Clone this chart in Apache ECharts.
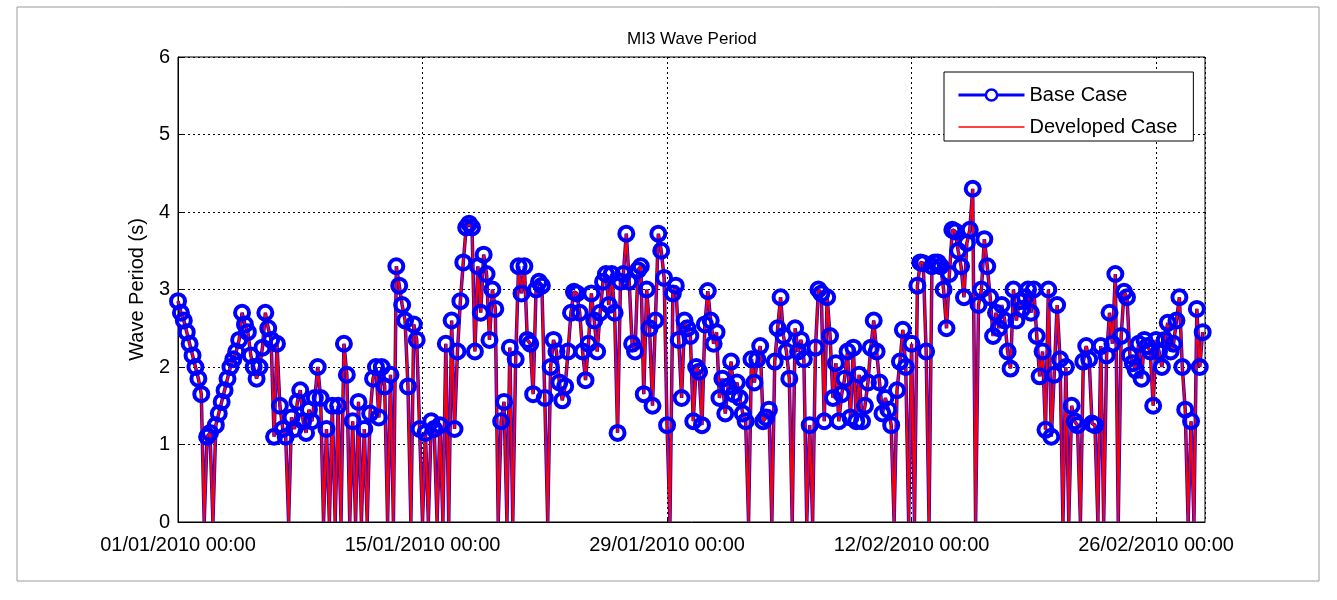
<!DOCTYPE html>
<html>
<head>
<meta charset="utf-8">
<script src="https://cdn.jsdelivr.net/npm/echarts@6/dist/echarts.min.js"></script>
<style>
html, body { margin: 0; background: #fff; }
#chart { width: 1337px; height: 600px; }
</style>
</head>
<body>
<div id="chart"></div>
<script>
// samples every 4 hours from 01/01/2010 00:00, x measured in days
var stepDays = 4 / 24;
var tickLabels = ['01/01/2010 00:00', '15/01/2010 00:00', '29/01/2010 00:00', '12/02/2010 00:00', '26/02/2010 00:00'];
var yTicks = [0, 1, 2, 3, 4, 5, 6];

var baseCase = [
    2.85, 2.7, 2.6, 2.45, 2.3, 2.15,
    2.0, 1.85, 1.65, 0, 1.1, 1.15,
    0, 1.25, 1.4, 1.55, 1.7, 1.85,
    2.0, 2.1, 2.2, 2.35, 2.7, 2.55,
    2.45, 2.15, 2.0, 1.85, 2.0, 2.25,
    2.7, 2.5, 2.35, 1.1, 2.3, 1.5,
    1.2, 1.1, 0, 1.35, 1.2, 1.55,
    1.7, 1.3, 1.15, 1.45, 1.3, 1.6,
    2.0, 1.6, 0, 1.2, 0, 1.5,
    0, 1.5, 0, 2.3, 1.9, 0,
    1.3, 0, 1.55, 0, 1.2, 0,
    1.4, 1.85, 2.0, 1.35, 2.0, 1.75,
    0, 1.9, 0, 3.3, 3.05, 2.8,
    2.6, 1.75, 0, 2.55, 2.35, 1.2,
    0, 1.15, 0, 1.3, 1.2, 0,
    1.25, 0, 2.3, 0, 2.6, 1.2,
    2.2, 2.85, 3.35, 3.8, 3.85, 3.8,
    2.2, 3.3, 2.7, 3.45, 3.2, 2.35,
    3.0, 2.75, 0, 1.3, 1.55, 0,
    2.25, 0, 2.1, 3.3, 2.95, 3.3,
    2.35, 2.3, 1.65, 3.0, 3.1, 3.05,
    1.6, 0, 2.0, 2.35, 2.2, 1.8,
    1.57, 1.75, 2.2, 2.7, 2.97, 2.95,
    2.7, 2.2, 1.83, 2.3, 2.95, 2.6,
    2.2, 2.7, 3.1, 3.2, 2.8, 3.2,
    2.7, 1.15, 3.1, 3.2, 3.72, 3.1,
    2.3, 2.2, 3.25, 3.3, 1.65, 3.0,
    2.5, 1.5, 2.6, 3.72, 3.5, 3.15,
    1.25, 0, 2.95, 3.05, 2.35, 1.6,
    2.6, 2.5, 2.4, 1.3, 2.0, 1.94,
    1.25, 2.55, 2.98, 2.6, 2.3, 2.45,
    1.6, 1.85, 1.4, 1.75, 2.07, 1.65,
    1.8, 1.6, 1.4, 1.3, 0, 2.1,
    1.8, 2.1, 2.27, 1.3, 1.35, 1.45,
    0, 2.07, 2.5, 2.9, 2.4, 2.2,
    1.85, 0, 2.5, 2.2, 2.35, 2.1,
    0, 1.25, 0, 2.25, 3.0, 2.95,
    1.3, 2.9, 2.4, 1.6, 2.05, 1.3,
    1.65, 1.85, 2.2, 1.35, 2.25, 1.3,
    1.9, 1.3, 1.5, 1.8, 2.25, 2.6,
    2.2, 1.8, 1.4, 1.6, 1.45, 1.25,
    0, 1.7, 2.07, 2.48, 2.0, 0,
    2.3, 0, 3.05, 3.35, 3.34, 2.2,
    0, 3.3, 3.35, 3.35, 3.3, 3.0,
    2.5, 3.2, 3.77, 3.75, 3.5, 3.3,
    2.9, 3.6, 3.77, 4.3, 0, 2.8,
    3.0, 3.65, 3.3, 2.9, 2.4, 2.7,
    2.5, 2.8, 2.6, 2.2, 1.98, 3.0,
    2.6, 2.85, 2.75, 2.9, 3.0, 2.7,
    3.0, 2.4, 1.88, 2.2, 1.19, 3.0,
    1.1, 1.9, 2.8, 2.1, 0, 2.0,
    0, 1.5, 1.3, 1.25, 0, 2.07,
    2.27, 2.1, 1.27, 1.25, 0, 2.27,
    0, 2.15, 2.7, 2.3, 3.2, 0,
    2.4, 2.97, 2.9, 2.15, 2.05, 1.96,
    2.3, 1.85, 2.35, 2.27, 2.2, 1.5,
    2.35, 2.2, 2.0, 2.35, 2.57, 2.2,
    2.3, 2.6, 2.9, 2.0, 1.45, 0,
    1.3, 0, 2.75, 2.0, 2.45
];
// the developed case sits on top of the base case everywhere in the plot
var developedCase = baseCase.slice();

function toPoints(values) {
    return values.map(function (v, i) { return [i * stepDays, v]; });
}

var font = 'Liberation Sans, Arial, Helvetica, sans-serif';
var gridLine = { show: true, lineStyle: { color: '#000', width: 1, type: [2, 3] } };

var chart = echarts.init(document.getElementById('chart'));
chart.setOption({
    animation: false,
    backgroundColor: '#fff',
    textStyle: { fontFamily: font },
    title: {
        text: 'MI3 Wave Period',
        left: 627,
        top: 31,
        padding: 0,
        textStyle: { fontSize: 17, fontWeight: 'normal', color: '#000', fontFamily: font }
    },
    graphic: [{
        type: 'rect',
        shape: { x: 17, y: 7, width: 1302, height: 574 },
        style: { fill: 'none', stroke: '#9a9a9a', lineWidth: 1 },
        silent: true
    }],
    legend: {
        orient: 'vertical',
        left: 944,
        top: 72,
        padding: [13, 16, 4, 13],
        itemGap: 12,
        itemWidth: 66,
        itemHeight: 14,
        borderColor: '#000',
        borderWidth: 1,
        backgroundColor: '#fff',
        textStyle: { fontSize: 20, color: '#000', fontFamily: font },
        data: [
            {
                name: 'Base Case',
                itemStyle: { color: '#fff', borderColor: '#0000ff', borderWidth: 2.5 },
                lineStyle: { color: '#0000ff', width: 3 }
            },
            { name: 'Developed Case', icon: 'path://M0,0L66,0L66,1.6L0,1.6Z', itemStyle: { color: '#ff0000' } }
        ]
    },
    grid: {
        left: 178, right: 132, top: 57, bottom: 78,
        show: true, borderColor: '#000', borderWidth: 1
    },
    xAxis: {
        type: 'value',
        min: 0,
        max: 58.8,
        interval: 14,
        axisLine: { lineStyle: { color: '#000', width: 1 } },
        axisTick: { inside: true, length: 5, lineStyle: { color: '#000' } },
        splitLine: gridLine,
        axisLabel: {
            fontSize: 20, color: '#000', margin: 13, showMaxLabel: false,
            formatter: function (v) {
                return v % 14 === 0 ? tickLabels[v / 14] : '';
            }
        }
    },
    yAxis: {
        type: 'value',
        min: yTicks[0],
        max: yTicks[yTicks.length - 1],
        interval: 1,
        name: 'Wave Period (s)',
        nameLocation: 'middle',
        nameGap: 30,
        nameTextStyle: { fontSize: 20, color: '#000', fontFamily: font },
        axisLine: { show: true, lineStyle: { color: '#000', width: 1 } },
        axisTick: { show: true, inside: true, length: 5, lineStyle: { color: '#000' } },
        splitLine: gridLine,
        axisLabel: { fontSize: 20, color: '#000', margin: 8 }
    },
    series: [
        {
            name: 'Base Case',
            type: 'line',
            data: toPoints(baseCase),
            symbol: 'circle',
            // markers on the missing (zero) samples fall outside the axes in the original
            symbolSize: function (p) { return p[1] > 0 ? 14 : 0; },
            showAllSymbol: true,
            itemStyle: { color: 'rgba(255,255,255,0)', borderColor: '#0000ff', borderWidth: 4 },
            lineStyle: { color: '#0000ff', width: 3.5 }
        },
        {
            name: 'Developed Case',
            type: 'line',
            data: toPoints(developedCase),
            symbol: 'none',
            itemStyle: { color: '#ff0000' },
            lineStyle: { color: '#ff0000', width: 2 }
        }
    ]
});
</script>
</body>
</html>
